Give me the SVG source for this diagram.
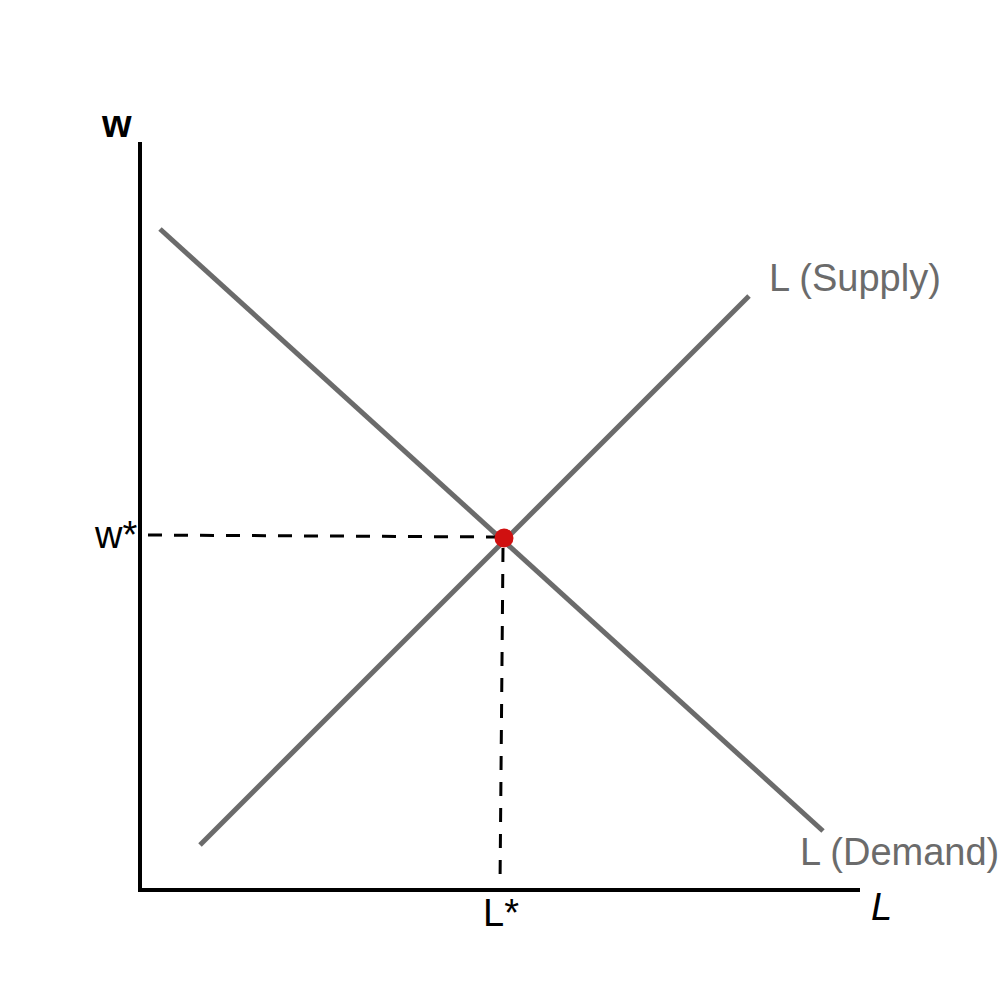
<svg xmlns="http://www.w3.org/2000/svg" width="1000" height="1000" viewBox="0 0 1000 1000">
<style>
.axis{stroke:#000;stroke-width:4;fill:none}
.curve{stroke:#6b6b6b;stroke-width:5;fill:none}
.guide{stroke:#000;stroke-width:3;fill:none;stroke-dasharray:14,12}
.t{font-family:"Liberation Sans",Arial,sans-serif;font-size:38px;fill:#000}
.g{fill:#6b6b6b}
</style>
<rect width="1000" height="1000" fill="#fff"/>
<g id="axes">
<path class="axis" d="M140,142 V890 H860"/>
</g>
<g id="connectors">
<line id="demand" class="curve" x1="160" y1="229" x2="823" y2="831"/>
<line id="supply" class="curve" x1="200" y1="845" x2="749" y2="296"/>
<line class="guide" x1="148" y1="535" x2="498" y2="537"/>
<line class="guide" x1="503" y1="548" x2="500" y2="886"/>
</g>
<g id="equilibrium">
<circle cx="504" cy="538" r="9.5" fill="#d01010"/>
</g>
<g id="labels">
<text class="t" x="102" y="137" font-weight="bold" font-size="34">w</text>
<text class="t" x="95" y="548" font-size="37">w*</text>
<text class="t" x="483" y="926" font-size="37">L*</text>
<text class="t" x="871" y="920" font-style="italic" font-size="37">L</text>
<text class="t g" x="769" y="291">L (Supply)</text>
<text class="t g" x="800" y="865">L (Demand)</text>
</g>
</svg>
